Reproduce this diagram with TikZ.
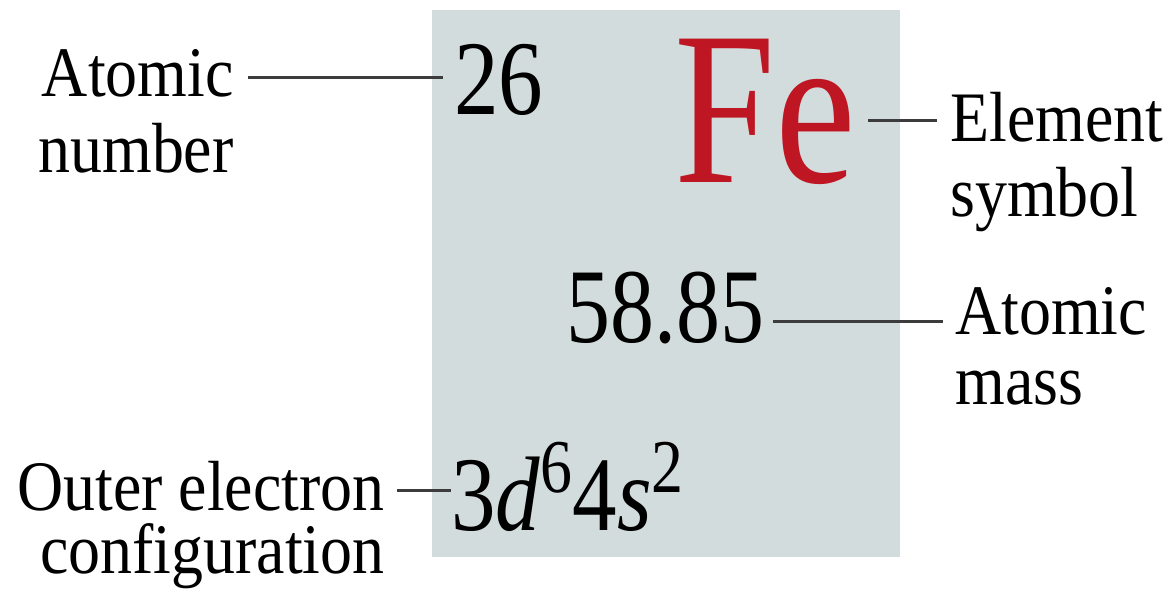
\documentclass[tikz,border=0pt]{standalone}
\usepackage{fontspec}
\setmainfont{Liberation Serif}
\usetikzlibrary{calc}
\definecolor{boxgray}{HTML}{D3DCDD}
\definecolor{fered}{HTML}{BE1622}
\definecolor{linegray}{HTML}{3C3C3C}
\newcommand{\sxs}[2]{\scalebox{#1}[1]{#2}}
\begin{document}
\begin{tikzpicture}[x=0.5pt,y=0.5pt,
  lbl/.style={inner sep=0pt},
  big/.style={inner sep=0pt, font=\fontsize{53}{58}\selectfont},
  conn/.style={draw=linegray, line width=1.5pt}]
\useasboundingbox (0,0) rectangle (1171,605);
\fill[boxgray] (432,48) rectangle (900,595);
% element data
\node[big, anchor=base west] (num) at (454,490) {\sxs{0.84}{26}};
\node[inner sep=0pt, anchor=base east, text=fered, font=\fontsize{109.5}{112}\selectfont] (sym) at (857,422) {\sxs{0.83}{Fe}};
\node[big, anchor=base east] (mass) at (765,262) {\sxs{0.83}{58.85}};
\node[big, anchor=base west] (conf) at (451,75) {\sxs{0.84}{3\textit{d}\raisebox{19pt}{\fontsize{38}{38}\selectfont 6}4\textit{s}\raisebox{19pt}{\fontsize{38}{38}\selectfont 2}}};
% labels (base anchor = last line)
\node[lbl, anchor=base east, align=right, font=\fontsize{35.5}{38}\selectfont] (lnum) at (234,432) {\sxs{0.9}{Atomic}\\\sxs{0.9}{number}};
\node[lbl, anchor=base west, align=left, font=\fontsize{35.5}{37.5}\selectfont] (elem) at (950,388) {\sxs{0.9}{Element}\\\sxs{0.9}{symbol}};
\node[lbl, anchor=base west, align=left, font=\fontsize{35.5}{35}\selectfont] (amass) at (955,200) {\sxs{0.9}{Atomic}\\\sxs{0.9}{mass}};
\node[lbl, anchor=base east, align=right, font=\fontsize{35.5}{31.5}\selectfont] (lconf) at (385,32) {\sxs{0.9}{Outer electron}\\\sxs{0.9}{configuration}};
% connectors
\draw[conn] ($(lnum.base east)+(14,95)$) coordinate (p1) -- ($(p1 -| num.west)+(-11,0)$);
\draw[conn] ($(sym.base east)+(11,62)$) coordinate (p2) -- ($(p2 -| elem.west)+(-13,0)$);
\draw[conn] ($(mass.base east)+(8,21)$) coordinate (p3) -- ($(p3 -| amass.west)+(-12,0)$);
\draw[conn] ($(lconf.base east)+(12,83)$) coordinate (p4) -- (p4 -| conf.west);
\end{tikzpicture}
\end{document}
